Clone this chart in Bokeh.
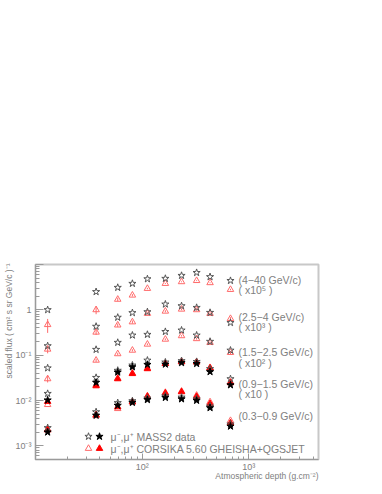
import math
from bokeh.plotting import figure
from bokeh.models import Range1d, FixedTicker, Label, Title
from bokeh.embed import file_html
from bokeh.resources import INLINE

# ---------------- data ----------------
depth = [13, 37, 59, 81, 112, 165, 234, 324, 433, 673]   # g/cm^2

# 4-40 GeV/c (x10^5)
g1_data = [1.0, 2.5, 3.1, 3.8, 4.8, 4.9, 5.7, 6.6, 5.35, 4.4]
g1_mc = [0.47, 1.0, 1.7, 2.1, 2.95, 3.8, 4.15, 4.4, 3.95, 2.8]
g1_mc_err = [0.16, 0.2, 0.15, 0.12, 0.1, 0.1, 0.1, 0.1, 0.1, 0.1]

# 2.5-4 GeV/c (x10^3)
g2_data = [0.16, 0.43, 0.68, 0.86, 0.9, 1.33, 1.22, 1.12, 0.87, 0.52]
g2_mc = [0.135, 0.32, 0.46, 0.54, 0.83, 0.93, 1.03, 1.0, 0.83, 0.64]
g2_mc_err = [0.025, 0.04, 0.04, 0.04, 0.05, 0.05, 0.05, 0.05, 0.05, 0.05]

# 1.5-2.5 GeV/c (x10^2)
g3_data = [0.052, 0.133, 0.19, 0.275, 0.285, 0.33, 0.355, 0.275, 0.2, 0.128]
g3_mc = [0.030, 0.077, 0.107, 0.128, 0.174, 0.224, 0.267, 0.23, 0.19, 0.114]
g3_mc_err = [0.005, 0.006, 0.006, 0.007, 0.008, 0.01, 0.01, 0.01, 0.01, 0.008]

# 0.9-1.5 GeV/c (x10)
g4_neg = [0.0142, 0.032, 0.046, 0.06, 0.077, 0.07, 0.075, 0.072, 0.05, 0.030]
g4_pos = [0.0102, 0.025, 0.042, 0.055, 0.062, 0.063, 0.068, 0.065, 0.043, 0.022]
g4_mc_neg = [0.0081, 0.022, 0.031, 0.040, 0.052, 0.066, 0.072, 0.071, 0.053, 0.026]
g4_mc_pos = [0.0095, 0.021, 0.030, 0.039, 0.050, 0.065, 0.071, 0.070, 0.052, 0.0245]

# 0.3-0.9 GeV/c
g5_neg = [0.0025, 0.0056, 0.0089, 0.0098, 0.0112, 0.0125, 0.0118, 0.0108, 0.0075, 0.0030]
g5_pos = [0.0020, 0.0047, 0.0078, 0.0090, 0.0104, 0.0116, 0.0108, 0.0100, 0.0069, 0.0027]
g5_mc_neg = [0.0022, 0.0046, 0.0066, 0.0092, 0.0125, 0.0150, 0.0160, 0.0130, 0.0093, 0.0036]
g5_mc_pos = [0.0023, 0.0048, 0.0072, 0.0093, 0.0123, 0.0145, 0.0155, 0.0122, 0.0085, 0.0032]

group_labels = [("(4\u221240 GeV/c)", "( x10\u2075 )"),
                ("(2.5\u22124 GeV/c)", "( x10\u00b3 )"),
                ("(1.5\u22122.5 GeV/c)", "( x10\u00b2 )"),
                ("(0.9\u22121.5 GeV/c)", "( x10 )"),
                ("(0.3\u22120.9 GeV/c)", None)]

legend_labels = ["\u03bc\u207b,\u03bc\u207a MASS2 data",
                 "\u03bc\u207b,\u03bc\u207a CORSIKA 5.60 GHEISHA+QGSJET"]

y_title = "scaled flux ( cm\u00b2 s sr GeV/c )\u207b\u00b9"
x_title = "Atmospheric depth (g.cm\u207b\u00b2)"

y_tick_vals = [0.001, 0.01, 0.1, 1, 10]
y_tick_text = ["10\u207b\u00b3", "10\u207b\u00b2", "10\u207b\u00b9", "1", ""]
x_tick_vals = [10, 100, 1000]
x_tick_text = ["", "10\u00b2", "10\u00b3"]

# ---------------- layout ----------------
XMIN, XMAX = 10, 4500
YMIN, YMAX = 5e-4, 10
W, H = 382, 494
F_L, F_R, F_T, F_B = 35, 318, 264, 459   # frame in canvas pixels

def xd(px):
    return 10 ** (math.log10(XMIN) + (px - F_L) / (F_R - F_L) * (math.log10(XMAX) - math.log10(XMIN)))

def yd(py):
    return 10 ** (math.log10(YMIN) + (F_B - py) / (F_B - F_T) * (math.log10(YMAX) - math.log10(YMIN)))

GRAY = "#808080"
FONT = "Liberation Sans"
STAR_C = "#555555"
TRI_C = "#ff6a6a"
RED = "#ff0000"

p = figure(width=W, height=H, x_axis_type="log", y_axis_type="log",
           x_range=Range1d(XMIN, XMAX), y_range=Range1d(YMIN, YMAX),
           output_backend="svg", toolbar_location=None,
           min_border_left=F_L, min_border_right=W - F_R,
           min_border_top=F_T, min_border_bottom=H - F_B)
p.xgrid.visible = False
p.ygrid.visible = False
p.outline_line_color = "#c8c8c8"
p.outline_line_width = 2
p.background_fill_color = "white"
p.border_fill_color = "white"

y_minor = [m * 10 ** e for e in range(-4, 1) for m in range(2, 10) if YMIN <= m * 10 ** e <= YMAX]
x_minor = [m * 10 ** e for e in range(1, 4) for m in range(2, 10) if XMIN <= m * 10 ** e <= XMAX]
p.yaxis.ticker = FixedTicker(ticks=y_tick_vals, minor_ticks=y_minor)
p.xaxis.ticker = FixedTicker(ticks=x_tick_vals, minor_ticks=x_minor)
p.yaxis.major_label_overrides = {v: t for v, t in zip(y_tick_vals, y_tick_text)}
p.xaxis.major_label_overrides = {v: t for v, t in zip(x_tick_vals, x_tick_text)}

for ax in (p.xaxis[0], p.yaxis[0]):
    ax.axis_line_color = "#9a9a9a"
    ax.axis_line_width = 1
    ax.major_tick_line_color = "#9a9a9a"
    ax.minor_tick_line_color = "#9a9a9a"
    ax.major_tick_out = 0
    ax.minor_tick_out = 0
    ax.major_label_text_color = GRAY
    ax.major_label_text_font = FONT
    ax.major_label_text_font_size = "9px"
p.yaxis.major_tick_in = 8
p.yaxis.minor_tick_in = 4
p.xaxis.major_tick_in = 6
p.xaxis.minor_tick_in = 3
p.yaxis.major_label_standoff = 4
p.xaxis.major_label_standoff = 2
p.yaxis.major_label_orientation = "horizontal"

# axis titles as side titles (aligned like the reference)
p.add_layout(Title(text=y_title, align="right", text_font=FONT, text_font_size="8.5px",
                   text_font_style="normal", text_color=GRAY, standoff=-2, offset=-1), "left")
p.add_layout(Title(text=x_title, align="right", text_font=FONT, text_font_size="8.5px",
                   text_font_style="normal", text_color=GRAY, standoff=-11, offset=0), "below")

def errbars(vals, errs):
    p.segment(depth, [v - e for v, e in zip(vals, errs)], depth,
              [v + e for v, e in zip(vals, errs)], line_color=TRI_C, line_width=1)

errbars(g1_mc, g1_mc_err)
errbars(g2_mc, g2_mc_err)
errbars(g3_mc, g3_mc_err)

STAR_S = 7.5
TRI_S = 6.5

# MC
for vals in (g1_mc, g2_mc, g3_mc, g4_mc_neg, g5_mc_neg):
    p.scatter(depth, vals, marker="triangle", size=TRI_S, fill_color=None,
              line_color=TRI_C, line_width=1)
for vals in (g4_mc_pos, g5_mc_pos):
    p.scatter(depth, vals, marker="triangle", size=TRI_S, fill_color=RED,
              line_color=RED, line_width=1)
# data
for vals in (g1_data, g2_data, g3_data, g4_neg, g5_neg):
    p.scatter(depth, vals, marker="star", size=STAR_S, fill_color=None,
              line_color=STAR_C, line_width=1)
for vals in (g4_pos, g5_pos):
    p.scatter(depth, vals, marker="star", size=STAR_S, fill_color="black",
              line_color="black", line_width=1)

# group labels
label_rows = [(279.5, 289.5), (316.5, 326.5), (351.5, 362), (383.5, 393.5), (415, None)]
for (l1, l2), (py1, py2) in zip(group_labels, label_rows):
    p.add_layout(Label(x=xd(238), y=yd(py1), text=l1, text_font=FONT,
                       text_font_size="10.5px", text_color=GRAY, text_baseline="middle"))
    if l2:
        p.add_layout(Label(x=xd(238), y=yd(py2), text=l2, text_font=FONT,
                           text_font_size="10.5px", text_color=GRAY, text_baseline="middle"))

# legend
leg_rows = [436, 448]
p.scatter([xd(88)], [yd(leg_rows[0])], marker="star", size=STAR_S, fill_color=None,
          line_color=STAR_C)
p.scatter([xd(99)], [yd(leg_rows[0])], marker="star", size=STAR_S, fill_color="black",
          line_color="black")
p.scatter([xd(88)], [yd(leg_rows[1])], marker="triangle", size=TRI_S, fill_color=None,
          line_color=TRI_C)
p.scatter([xd(99)], [yd(leg_rows[1])], marker="triangle", size=TRI_S, fill_color=RED,
          line_color=RED)
for txt, py in zip(legend_labels, leg_rows):
    p.add_layout(Label(x=xd(110), y=yd(py), text=txt, text_font=FONT,
                       text_font_size="10.5px", text_color=GRAY, text_baseline="middle"))

open("out.html", "w").write(file_html(p, INLINE))
